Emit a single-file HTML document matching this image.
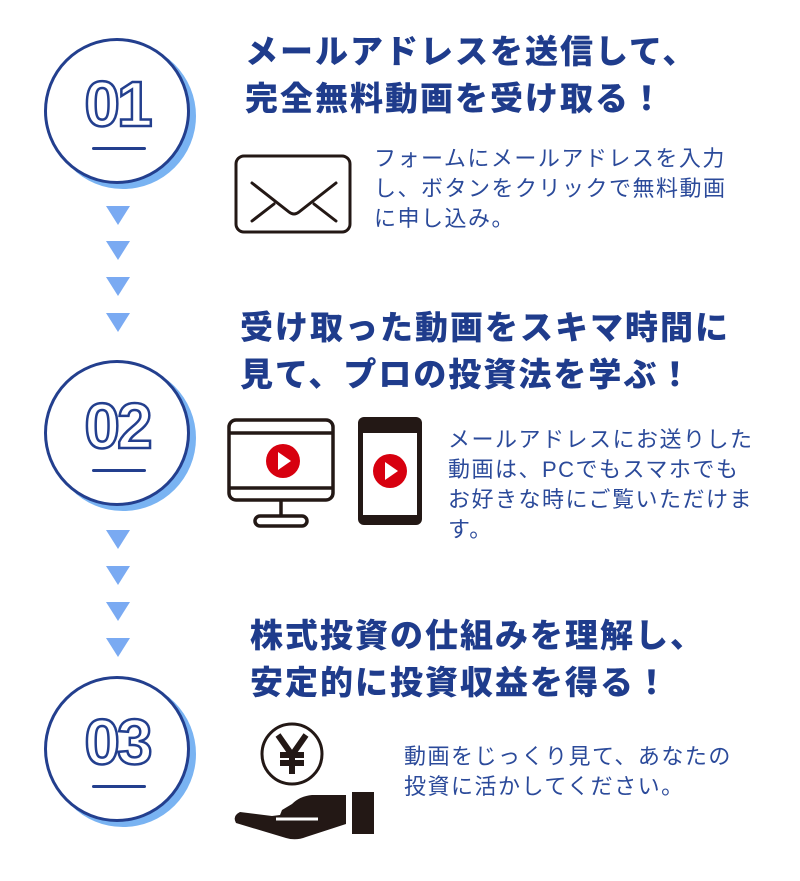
<!DOCTYPE html>
<html><head><meta charset="utf-8"><style>
body{margin:0;width:800px;height:881px;background:#fff;position:relative;overflow:hidden;font-family:"Liberation Sans","Noto Sans CJK JP",sans-serif}
.a{position:absolute;white-space:nowrap}
.h{color:#1f3c8c;font-weight:900;font-size:33px;line-height:47px;letter-spacing:2px}
.t{color:#2b4a9a;font-size:22px;line-height:30px;letter-spacing:1.5px}
.c{position:absolute;width:140px;height:140px;border:3px solid #233f8e;border-radius:50%;background:#fff;box-shadow:6px 5px 0 #79b3f2}
.n{position:absolute;left:0;width:140px;top:26px;text-align:center;font-size:64px;font-weight:900;color:#fff;-webkit-text-stroke:2.5px #233f8e;letter-spacing:-3px;font-family:"Liberation Sans",sans-serif}
.u{position:absolute;left:45px;top:106px;width:54px;height:3px;background:#233f8e;border-radius:2px}
.tri{position:absolute;width:0;height:0;border-left:12px solid transparent;border-right:12px solid transparent;border-top:19px solid #7aaaf2}
</style></head><body>
<div class="c" style="left:44px;top:38px"><div class="n">01</div><div class="u"></div></div>
<div class="c" style="left:44px;top:360px"><div class="n">02</div><div class="u"></div></div>
<div class="c" style="left:44px;top:676px"><div class="n">03</div><div class="u"></div></div>

<div class="tri" style="left:106px;top:206px"></div>
<div class="tri" style="left:106px;top:241px"></div>
<div class="tri" style="left:106px;top:277px"></div>
<div class="tri" style="left:106px;top:313px"></div>
<div class="tri" style="left:106px;top:530px"></div>
<div class="tri" style="left:106px;top:566px"></div>
<div class="tri" style="left:106px;top:602px"></div>
<div class="tri" style="left:106px;top:638px"></div>

<div class="a h" style="left:245px;top:28px">メールアドレスを送信して、<br>完全無料動画を受け取る！</div>
<div class="a t" style="left:374px;top:144px">フォームにメールアドレスを入力<br>し、ボタンをクリックで無料動画<br>に申し込み。</div>
<svg class="a" style="left:234px;top:154px" width="120" height="82"><rect x="2" y="2" width="114" height="76" rx="8" fill="none" stroke="#231815" stroke-width="3"/><path d="M18 29 L55 58 Q60 62 65 58 L102 29 M18 67 L40 50 M102 67 L80 50" fill="none" stroke="#231815" stroke-width="3" stroke-linecap="round"/></svg>

<div class="a h" style="left:240px;top:304px">受け取った動画をスキマ時間に<br>見て、プロの投資法を学ぶ！</div>
<svg class="a" style="left:226px;top:414px" width="206" height="114"><rect x="3" y="6" width="104" height="80" rx="7" fill="none" stroke="#231815" stroke-width="3.5"/><line x1="3" y1="19" x2="107" y2="19" stroke="#231815" stroke-width="3.5"/><line x1="3" y1="74" x2="107" y2="74" stroke="#231815" stroke-width="3.5"/><line x1="55" y1="86" x2="55" y2="102" stroke="#231815" stroke-width="3.5"/><rect x="29" y="102" width="52" height="10" rx="5" fill="none" stroke="#231815" stroke-width="3.5"/><circle cx="57" cy="47" r="17" fill="#d7000f"/><path d="M52 38 L65 47 L52 56Z" fill="#fff"/><rect x="132" y="3" width="64" height="108" rx="6" fill="#231815"/><rect x="137" y="19" width="54" height="82" fill="#fff"/><circle cx="164" cy="57" r="17" fill="#d7000f"/><path d="M159 48 L172 57 L159 66Z" fill="#fff"/></svg>
<div class="a t" style="left:448px;top:425px">メールアドレスにお送りした<br>動画は、PCでもスマホでも<br>お好きな時にご覧いただけま<br>す。</div>

<div class="a h" style="left:250px;top:612px">株式投資の仕組みを理解し、<br>安定的に投資収益を得る！</div>
<svg class="a" style="left:230px;top:720px" width="150" height="124"><circle cx="62" cy="34" r="30" fill="none" stroke="#231815" stroke-width="3"/><path d="M48 15 L62 35 L76 15 M62 35 L62 54 M50 35 L74 35 M50 43 L74 43" fill="none" stroke="#231815" stroke-width="6"/><rect x="122" y="72" width="22" height="42" fill="#231815"/><path d="M10 92 Q2 96 6 103 L56 118 Q66 121 76 117 L116 104 L116 75 L82 75 Q70 76 62 84 L52 90 L50 95 L42 96 Z" fill="#231815"/><path d="M46 99 L88 99" stroke="#fff" stroke-width="3"/></svg>
<div class="a t" style="left:404px;top:742px">動画をじっくり見て、あなたの<br>投資に活かしてください。</div>
</body></html>
